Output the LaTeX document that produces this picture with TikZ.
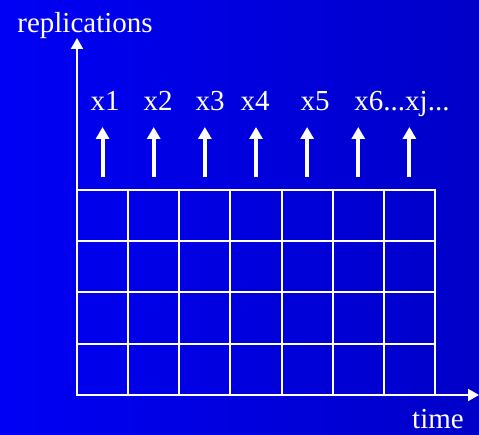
\documentclass[tikz,border=0pt]{standalone}
\usepackage{fontspec}
\setmainfont{Liberation Serif}
\usetikzlibrary{arrows.meta, positioning, calc}
\definecolor{slideleft}{RGB}{0, 0, 245}
\definecolor{slideright}{RGB}{0, 0, 200}

\begin{document}
\begin{tikzpicture}[
    x=1pt, y=-1pt,
    font=\fontsize{29}{34}\selectfont,
    axisline/.style={-{Triangle[length=11pt, width=12pt]}, line width=2pt, draw=white},
    cell/.style={rectangle, draw=white, line width=2pt, inner sep=0pt, outer sep=0pt,
                 minimum width=51.14pt, minimum height=51.25pt},
    upmark/.style={-{Triangle[length=12pt, width=13pt]}, line width=4pt, draw=white},
    axislabel/.style={text=white, inner sep=0pt, anchor=base},
    slotlabel/.style={text=white, inner sep=0pt, anchor=base},
]

% ============================================================
% BACKGROUND
% ============================================================
\useasboundingbox (0,0) rectangle (479,435);
\fill[left color=slideleft, right color=slideright] (0,0) rectangle (479,435);

% ============================================================
% GRID OF CELLS (4 rows x 7 columns)
% ============================================================
\foreach \r in {1,...,4}{
  \foreach \c in {1,...,7}{
    \node[cell] (cell-\r-\c) at ({77 + (\c-0.5)*51.14}, {190 + (\r-0.5)*51.25}) {};
  }
}

% ============================================================
% AXES
% ============================================================
\coordinate (origin) at (cell-4-1.south west);
\coordinate (yend) at (77, 38);
\coordinate (xend) at (479, 395);
\draw[axisline] (origin) -- (yend);
\draw[axisline] (origin) -- (xend);

\node[axislabel] (replications) at (85, 33) {replications};
\node[axislabel] (time) at (438, 428) {time};

% ============================================================
% UP ARROWS AND SLOT LABELS
% ============================================================
\foreach \c in {1,...,7}{
  \coordinate (foot\c) at ($(cell-1-\c.north) + (0, -13)$);
  \coordinate (tip\c) at ($(cell-1-\c.north) + (0, -63)$);
  \draw[upmark] (foot\c) -- (tip\c);
}

\node[slotlabel] (slot1) at (105, 111) {x1};
\node[slotlabel] (slot2) at (158, 111) {x2};
\node[slotlabel] (slot3) at (210, 111) {x3};
\node[slotlabel] (slot4) at (255, 111) {x4};
\node[slotlabel] (slot5) at (315, 111) {x5};
\node[slotlabel] (slot6) at (402, 111) {x6...xj...};

\end{tikzpicture}
\end{document}
